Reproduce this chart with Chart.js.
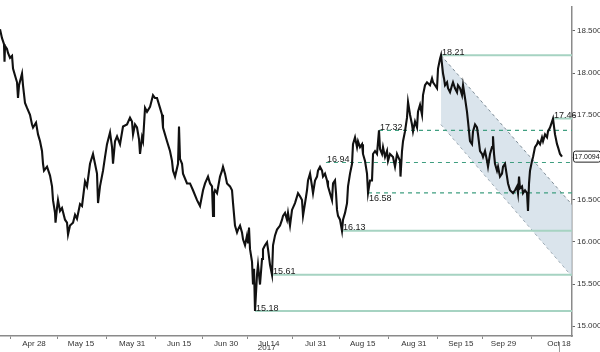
<!DOCTYPE html>
<html lang="en">
<head>
<meta charset="UTF-8">
<title>Price channel 2017</title>
<script src="https://cdn.jsdelivr.net/npm/chart.js"></script>
<style>
    * { margin: 0; padding: 0; box-sizing: border-box; }
    body { background: #fff; }
    .wrap { position: relative; width: 600px; height: 352px; }
</style>
</head>
<body>
<div class="wrap"><canvas id="chart"></canvas></div>
<script>
// x is counted in trading days from Apr 28 (weekends skipped)
const tickPos = [0, 11, 23, 34, 45, 55, 66, 77, 89, 100, 110, 123];
const tickLabels = ['Apr 28', 'May 15', 'May 31', 'Jun 15', 'Jun 30', 'Jul 14', 'Jul 31', 'Aug 15', 'Aug 31', 'Sep 15', 'Sep 29', 'Oct 18'];
const yearLabel = '2017';
const yearAt = 55;
const yTicks = [15.0, 15.5, 16.0, 16.5, 17.0, 17.5, 18.0, 18.5];
const xMin = -7.97, xMax = 126.05;
const yMin = 14.884, yMax = 18.785;

const days = [
  -7.97,-7.50,-7.03,-6.91,-6.79,-6.33,-6.09,-5.62,-5.15,-4.92,-4.45,-3.98,-3.75,-3.51,-2.81,-2.58,-2.11,-1.64,-0.94,-0.47,
  -0.23,0.47,0.94,1.41,1.87,2.11,2.34,3.05,3.75,4.22,4.45,4.92,5.04,5.39,5.62,6.09,6.56,7.26,7.73,7.97,
  8.43,9.14,9.61,10.07,10.78,11.25,11.95,12.42,13.12,13.82,14.29,14.76,15.00,15.46,16.17,16.64,17.10,17.81,18.28,18.51,
  18.98,19.45,20.15,20.85,21.79,22.49,22.96,23.20,23.66,24.13,24.60,24.84,25.30,25.54,26.01,26.48,27.18,27.88,28.35,28.82,
  29.52,29.99,30.22,31.16,31.86,32.33,32.57,33.04,33.74,33.97,34.21,34.68,34.91,35.85,36.55,37.25,38.19,38.89,39.60,40.07,
  40.77,41.24,41.71,41.94,42.17,42.41,42.88,43.58,44.05,44.28,44.75,45.22,45.92,46.39,46.63,47.09,47.56,47.80,48.27,48.73,
  48.97,49.44,49.91,50.14,50.37,50.61,51.08,51.31,51.55,51.78,52.25,52.48,52.95,53.42,53.65,54.12,54.59,54.83,55.29,55.76,
  56.00,56.47,56.93,57.64,58.11,58.34,58.81,59.28,59.51,59.98,60.45,61.15,61.86,62.32,62.79,63.03,63.50,63.96,64.20,64.67,
  65.14,65.37,65.84,66.31,66.54,67.01,67.48,67.71,68.18,68.65,68.88,69.35,69.82,70.06,70.52,70.76,70.99,71.23,71.70,72.16,
  72.40,72.87,73.34,73.57,74.04,74.51,74.74,75.21,75.68,75.91,76.38,76.85,77.08,77.55,78.02,78.26,78.72,79.19,79.43,79.90,
  80.36,80.83,81.07,81.54,81.77,82.24,82.71,82.94,83.41,84.11,84.58,85.05,85.75,85.87,86.22,86.46,86.92,87.39,87.63,88.10,
  88.56,88.80,89.27,89.74,89.97,90.44,90.91,91.14,91.61,92.08,92.78,93.25,93.49,93.95,94.42,94.66,95.13,95.36,95.83,96.06,
  96.30,96.77,97.00,97.47,97.94,98.17,98.64,99.11,99.34,99.81,100.28,100.52,100.98,101.45,101.69,102.15,102.62,102.86,103.33,103.79,
  104.03,104.50,104.97,105.20,105.67,106.14,106.37,106.84,107.31,107.54,107.78,108.01,108.48,108.72,109.18,109.65,109.89,110.36,110.82,111.06,
  111.53,112.23,112.70,113.17,113.40,113.64,113.87,114.34,114.57,115.04,115.51,115.74,115.98,116.21,116.68,116.92,117.38,117.85,118.09,118.56,
  119.02,119.26,119.73,120.20,120.43,120.90,121.37,121.60,122.07,122.54,122.77,123.24,123.71
];
const prices = [
  18.518,18.413,18.343,18.134,18.320,18.285,18.238,18.180,18.204,18.052,17.971,17.890,17.704,17.855,17.994,17.855,17.645,17.587,17.506,17.390,
  17.355,17.413,17.273,17.192,17.076,16.925,16.843,16.890,16.785,16.657,16.494,16.343,16.227,16.401,16.494,16.366,16.401,16.262,16.227,16.087,
  16.192,16.227,16.320,16.273,16.448,16.425,16.715,16.657,16.925,17.041,16.925,16.808,16.459,16.657,16.843,17.006,17.157,17.297,17.122,16.925,
  17.192,17.250,17.157,17.366,17.390,17.471,17.425,17.273,17.390,17.355,17.215,17.041,17.238,17.192,17.587,17.541,17.599,17.738,17.704,17.704,
  17.587,17.506,17.355,17.192,17.076,16.959,16.843,16.773,16.925,17.366,16.983,16.925,16.808,16.692,16.692,16.611,16.494,16.425,16.611,16.692,
  16.773,16.692,16.657,16.308,16.576,16.611,16.576,16.773,16.843,16.890,16.808,16.692,16.657,16.611,16.459,16.192,16.111,16.145,16.192,16.111,
  16.029,15.959,16.076,15.994,16.169,15.913,15.762,15.494,15.680,15.180,15.611,15.727,15.494,15.797,15.913,15.959,15.994,15.913,15.727,15.610,
  15.959,16.076,16.145,16.192,16.262,16.308,16.343,16.262,16.343,16.192,16.378,16.459,16.576,16.541,16.494,16.308,16.459,16.611,16.727,16.808,
  16.657,16.576,16.727,16.773,16.843,16.890,16.843,16.773,16.808,16.727,16.657,16.576,16.494,16.692,16.727,16.576,16.378,16.308,16.262,16.130,
  16.262,16.343,16.459,16.657,16.808,16.925,17.157,17.238,17.122,17.192,17.122,17.157,17.041,16.959,16.808,16.580,16.727,16.727,17.041,17.076,
  17.041,17.320,17.099,17.041,17.122,17.006,17.076,16.959,17.041,17.006,16.890,17.041,16.959,16.773,17.076,17.192,17.308,17.471,17.657,17.506,
  17.390,17.308,17.425,17.355,17.541,17.622,17.506,17.738,17.855,17.890,17.855,17.936,17.890,17.855,17.820,18.052,18.169,18.210,17.994,17.936,
  17.855,17.890,17.820,17.773,17.855,17.890,17.820,17.773,17.855,17.820,17.738,17.855,17.704,17.541,17.425,17.192,17.157,17.308,17.390,17.355,
  17.273,17.076,17.041,17.006,17.076,16.959,16.890,17.041,17.122,17.250,17.041,16.925,16.843,16.890,16.773,16.808,16.890,16.925,16.773,16.692,
  16.611,16.576,16.611,16.657,16.576,16.773,16.634,16.657,16.576,16.611,16.576,16.366,16.692,16.843,16.959,17.006,17.122,17.157,17.192,17.157,
  17.238,17.192,17.273,17.238,17.308,17.355,17.425,17.460,17.273,17.157,17.122,17.041,17.009
];
const lastPrice = 17.0094;

// support / resistance levels and the day each one starts
const solidLevels = [18.21, 17.46, 16.13, 15.61, 15.18];
const solidFrom = [95.36, 121.60, 72.16, 55.76, 51.78];
const dashedLevels = [17.32, 16.94, 16.58];
const dashedFrom = [80.83, 68.40, 78.26];

// falling channel from the Sep high
const channelDays = [95.36, 126.05];
const channelTop = [18.21, 16.44];
const channelBottom = [17.39, 15.59];

const FONT = '"Liberation Sans Narrow", "Liberation Sans", Arial, sans-serif';

const datasets = [];
datasets.push({
    data: channelDays.map((d, i) => ({ x: d, y: channelTop[i] })),
    borderColor: '#7d8b95', borderWidth: 1, borderDash: [3, 3],
    backgroundColor: 'rgba(205,219,229,0.75)', fill: '+1', order: 5
});
datasets.push({
    data: channelDays.map((d, i) => ({ x: d, y: channelBottom[i] })),
    borderColor: '#7d8b95', borderWidth: 1, borderDash: [3, 3], fill: false, order: 5
});
solidLevels.forEach((v, i) => {
    datasets.push({ data: [{ x: solidFrom[i], y: v }, { x: xMax, y: v }], borderColor: '#a6d3c2', borderWidth: 2, fill: false, order: 3 });
});
dashedLevels.forEach((v, i) => {
    datasets.push({ data: [{ x: dashedFrom[i], y: v }, { x: xMax, y: v }], borderColor: '#3f9e80', borderWidth: 1.2, borderDash: [4, 4], fill: false, order: 2 });
});
datasets.push({
    data: days.map((d, i) => ({ x: d, y: prices[i] })),
    borderColor: '#111', borderWidth: 2.1, fill: false, order: 0
});

const extras = {
    id: 'extras',
    afterDatasetsDraw(chart) {
        const { ctx, scales: { x, y } } = chart;
        ctx.save();
        ctx.font = '9px ' + FONT;
        ctx.fillStyle = '#1b1b1b';
        ctx.textAlign = 'left';
        const all = solidLevels.map((v, i) => [v, solidFrom[i]]).concat(dashedLevels.map((v, i) => [v, dashedFrom[i]]));
        all.forEach(([v, from]) => {
            const px = x.getPixelForValue(from) + 1;
            const py = y.getPixelForValue(v);
            if (v === 16.58) { ctx.textBaseline = 'top'; ctx.fillText(v.toFixed(2), px, py + 1); }
            else { ctx.textBaseline = 'bottom'; ctx.fillText(v.toFixed(2), px, py + 1.5); }
        });
        ctx.restore();
    },
    afterDraw(chart) {
        const { ctx, scales: { x, y }, chartArea } = chart;
        ctx.save();
        // last price tag on the axis
        const ly = y.getPixelForValue(lastPrice);
        ctx.fillStyle = '#fff';
        ctx.strokeStyle = '#222';
        ctx.lineWidth = 1;
        ctx.beginPath();
        ctx.roundRect(chartArea.right + 1.5, ly - 5.5, 27, 11, 2);
        ctx.fill(); ctx.stroke();
        ctx.fillStyle = '#111';
        ctx.font = '7px ' + FONT;
        ctx.textAlign = 'center'; ctx.textBaseline = 'middle';
        ctx.fillText(lastPrice.toFixed(4), chartArea.right + 15, ly + 0.5);
        // year under the axis
        ctx.font = '8px ' + FONT;
        ctx.fillStyle = '#333';
        ctx.fillText(yearLabel, x.getPixelForValue(yearAt) - 2, 348);
        // current day marker
        const cx = x.getPixelForValue(tickPos[tickPos.length - 1]);
        ctx.strokeStyle = '#999';
        ctx.beginPath(); ctx.moveTo(cx + 0.5, chartArea.bottom + 6); ctx.lineTo(cx + 0.5, 352); ctx.stroke();
        ctx.restore();
    }
};

new Chart(document.getElementById('chart'), {
    type: 'line',
    data: { datasets },
    options: {
        responsive: true,
        maintainAspectRatio: false,
        animation: false,
        layout: { padding: 0 },
        elements: { point: { radius: 0 }, line: { tension: 0 } },
        plugins: { legend: { display: false }, tooltip: { enabled: false } },
        scales: {
            x: {
                type: 'linear', min: xMin, max: xMax,
                afterBuildTicks: s => { s.ticks = tickPos.map(v => ({ value: v })); },
                afterFit: s => { s.height = 16; },
                ticks: { callback: (v, i) => tickLabels[i], font: { size: 8, family: FONT }, color: '#333', padding: 0, maxRotation: 0, autoSkip: false },
                grid: { drawOnChartArea: false, offset: true, tickLength: 3, color: '#888' },
                border: { color: '#8a8a8a', width: 1.5 }
            },
            y: {
                position: 'right', min: yMin, max: yMax,
                afterBuildTicks: s => { s.ticks = yTicks.map(v => ({ value: v })); },
                afterFit: s => { s.width = 28; },
                ticks: { callback: v => v.toFixed(4), font: { size: 8, family: FONT }, color: '#333', padding: 2 },
                grid: { drawOnChartArea: false, tickLength: 3, color: '#666' },
                border: { color: '#8a8a8a', width: 1.5 }
            }
        }
    },
    plugins: [extras]
});
</script>
</body>
</html>
